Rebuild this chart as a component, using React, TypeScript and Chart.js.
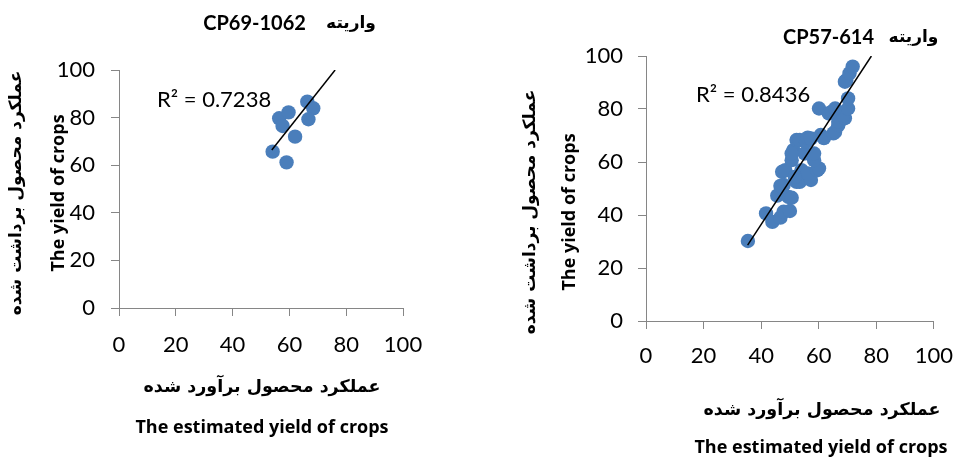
import React, { useEffect, useRef } from "react";
import { Chart, registerables } from "chart.js";

Chart.register(...registerables);

// ---------- data ----------
const axisTicks = [0, 20, 40, 60, 80, 100];

const leftEstimated = [54.1, 59.0, 62.0, 56.4, 57.6, 59.7, 66.3, 68.4, 66.7];
const leftHarvested = [65.7, 61.2, 72.0, 79.7, 76.5, 82.2, 86.7, 83.9, 79.3];
const leftTrendX = [53.8, 76.1];
const leftTrendY = [66.4, 100];

const rightEstimated = [
  35.4, 41.7, 43.9, 46.7, 47.8, 50.0, 45.6, 49.5, 50.6, 47.8, 46.7, 52.3, 53.4, 57.3,
  47.3, 48.4, 54.0, 56.2, 59.5, 60.1, 51.7, 50.6, 58.4, 51.2, 55.1, 50.6, 58.4, 52.3,
  53.4, 55.6, 56.2, 57.3, 60.7, 61.8, 65.1, 65.7, 66.8, 66.8, 69.1, 68.5, 60.1, 63.5,
  64.6, 65.7, 70.2, 70.2, 69.6, 69.1, 70.7, 71.8,
];
const rightHarvested = [
  30.2, 40.6, 37.4, 39.0, 41.2, 41.5, 47.3, 46.8, 46.5, 51.3, 51.0, 52.5, 52.5, 53.2,
  56.3, 56.9, 56.9, 55.7, 56.9, 57.6, 54.4, 60.7, 60.7, 64.5, 63.2, 63.2, 63.2, 68.3,
  68.3, 67.6, 69.2, 68.9, 70.2, 69.0, 70.8, 71.4, 73.9, 75.2, 76.5, 77.7, 80.2, 78.3,
  79.0, 80.2, 80.2, 84.0, 90.9, 90.3, 93.5, 96.0,
];
const rightTrendX = [35.3, 78.3];
const rightTrendY = [28.6, 100];

const varietyWord = "واریته";
const leftVariety = "CP69-1062";
const rightVariety = "CP57-614";
const leftR2 = "R² = 0.7238";
const rightR2 = "R² = 0.8436";
const yTitleFa = "عملکرد محصول برداشت شده";
const yTitleEn = "The yield of crops";
const xTitleFa = "عملکرد محصول برآورد شده";
const xTitleEn = "The estimated yield of crops";

// ---------- styles ----------
const NUM_FONT = 'Lato, "DejaVu Sans", sans-serif';
const EN_FONT = '"Open Sans", "DejaVu Sans", sans-serif';
const FA_FONT = '"DejaVu Sans", sans-serif';
const POINT_COLOR = "#4A7EBB";
const AXIS_COLOR = "#868686";
const H = 457;

type TextItem = {
  text: string;
  x: number;
  y: number;
  font: string;
  align?: CanvasTextAlign;
  rot?: number;
};

function textPlugin(items: TextItem[]) {
  return {
    id: "freeTexts",
    afterDraw(chart: any) {
      const ctx: CanvasRenderingContext2D = chart.ctx;
      for (const t of items) {
        ctx.save();
        ctx.font = t.font;
        ctx.fillStyle = "#000";
        ctx.textAlign = t.align || "center";
        ctx.textBaseline = "middle";
        ctx.translate(t.x, t.y);
        if (t.rot) ctx.rotate(t.rot);
        ctx.fillText(t.text, 0, 0);
        ctx.restore();
      }
    },
  };
}

function buildConfig(
  xs: number[],
  ys: number[],
  tx: number[],
  ty: number[],
  area: { left: number; right: number; top: number; bottom: number },
  width: number,
  texts: TextItem[],
  xPad: number,
  yPad: number
): any {
  const tickFont = { family: NUM_FONT, size: 22 };
  return {
    type: "scatter",
    data: {
      datasets: [
        {
          data: tx.map((x, i) => ({ x, y: ty[i] })),
          showLine: true,
          borderColor: "#000",
          borderWidth: 1.5,
          pointRadius: 0,
          order: 0,
        },
        {
          data: xs.map((x, i) => ({ x, y: ys[i] })),
          backgroundColor: POINT_COLOR,
          borderColor: POINT_COLOR,
          borderWidth: 0,
          pointRadius: 7.2,
          order: 1,
        },
      ],
    },
    options: {
      responsive: false,
      animation: false,
      layout: {
        padding: { top: area.top, right: width - area.right, left: 0, bottom: 0 },
      },
      plugins: {
        legend: { display: false },
        tooltip: { enabled: false },
        title: { display: false },
      },
      scales: {
        x: {
          type: "linear",
          min: 0,
          max: 100,
          afterBuildTicks: (s: any) => {
            s.ticks = axisTicks.map((v) => ({ value: v }));
          },
          ticks: { font: tickFont, color: "#000", padding: xPad, maxRotation: 0 },
          grid: { drawOnChartArea: false, tickLength: 8, color: AXIS_COLOR },
          border: { color: AXIS_COLOR, width: 1 },
          afterFit: (s: any) => {
            s.height = H - area.bottom;
          },
        },
        y: {
          type: "linear",
          min: 0,
          max: 100,
          afterBuildTicks: (s: any) => {
            s.ticks = axisTicks.map((v) => ({ value: v }));
          },
          ticks: { font: tickFont, color: "#000", padding: yPad },
          grid: { drawOnChartArea: false, tickLength: 8, color: AXIS_COLOR },
          border: { color: AXIS_COLOR, width: 1 },
          afterFit: (s: any) => {
            s.width = area.left;
          },
        },
      },
    },
    plugins: [textPlugin(texts)],
  };
}

const rotL = -Math.PI / 2;

const leftTexts: TextItem[] = [
  { text: leftVariety, x: 254.5, y: 24, font: `bold 20px ${NUM_FONT}` },
  { text: varietyWord, x: 351, y: 24, font: `bold 17px ${FA_FONT}` },
  { text: leftR2, x: 157, y: 100, font: `22px ${NUM_FONT}`, align: "left" },
  { text: yTitleFa, x: 17, y: 193, font: `bold 17px ${FA_FONT}`, rot: rotL },
  { text: yTitleEn, x: 59, y: 193, font: `bold 18px ${EN_FONT}`, rot: rotL },
  { text: xTitleFa, x: 262, y: 387, font: `bold 17.5px ${FA_FONT}` },
  { text: xTitleEn, x: 262, y: 428, font: `bold 18px ${EN_FONT}` },
];

const rightTexts: TextItem[] = [
  { text: rightVariety, x: 348.5, y: 38, font: `bold 20px ${NUM_FONT}` },
  { text: varietyWord, x: 433.5, y: 38, font: `bold 17px ${FA_FONT}` },
  { text: rightR2, x: 216, y: 95, font: `22px ${NUM_FONT}`, align: "left" },
  { text: yTitleFa, x: 51, y: 212, font: `bold 17px ${FA_FONT}`, rot: rotL },
  { text: yTitleEn, x: 90, y: 212, font: `bold 18px ${EN_FONT}`, rot: rotL },
  { text: xTitleFa, x: 342, y: 410, font: `bold 17.5px ${FA_FONT}` },
  { text: xTitleEn, x: 341, y: 448, font: `bold 18px ${EN_FONT}` },
];

export default function App() {
  const leftRef = useRef<HTMLCanvasElement | null>(null);
  const rightRef = useRef<HTMLCanvasElement | null>(null);

  useEffect(() => {
    const charts: Chart[] = [];
    if (leftRef.current) {
      charts.push(
        new Chart(
          leftRef.current,
          buildConfig(
            leftEstimated,
            leftHarvested,
            leftTrendX,
            leftTrendY,
            { left: 119, right: 403, top: 70, bottom: 308 },
            480,
            leftTexts,
            16,
            16
          )
        )
      );
    }
    if (rightRef.current) {
      charts.push(
        new Chart(
          rightRef.current,
          buildConfig(
            rightEstimated,
            rightHarvested,
            rightTrendX,
            rightTrendY,
            { left: 166, right: 464, top: 56, bottom: 321 },
            487,
            rightTexts,
            14,
            15
          )
        )
      );
    }
    return () => charts.forEach((c) => c.destroy());
  }, []);

  return (
    <div
      style={{
        position: "absolute",
        left: 0,
        top: 0,
        width: 967,
        height: 457,
        background: "#fff",
        overflow: "hidden",
      }}
    >
      <canvas
        ref={leftRef}
        width={480}
        height={457}
        style={{ position: "absolute", left: 0, top: 0, width: 480, height: 457 }}
      />
      <canvas
        ref={rightRef}
        width={487}
        height={457}
        style={{ position: "absolute", left: 480, top: 0, width: 487, height: 457 }}
      />
    </div>
  );
}
